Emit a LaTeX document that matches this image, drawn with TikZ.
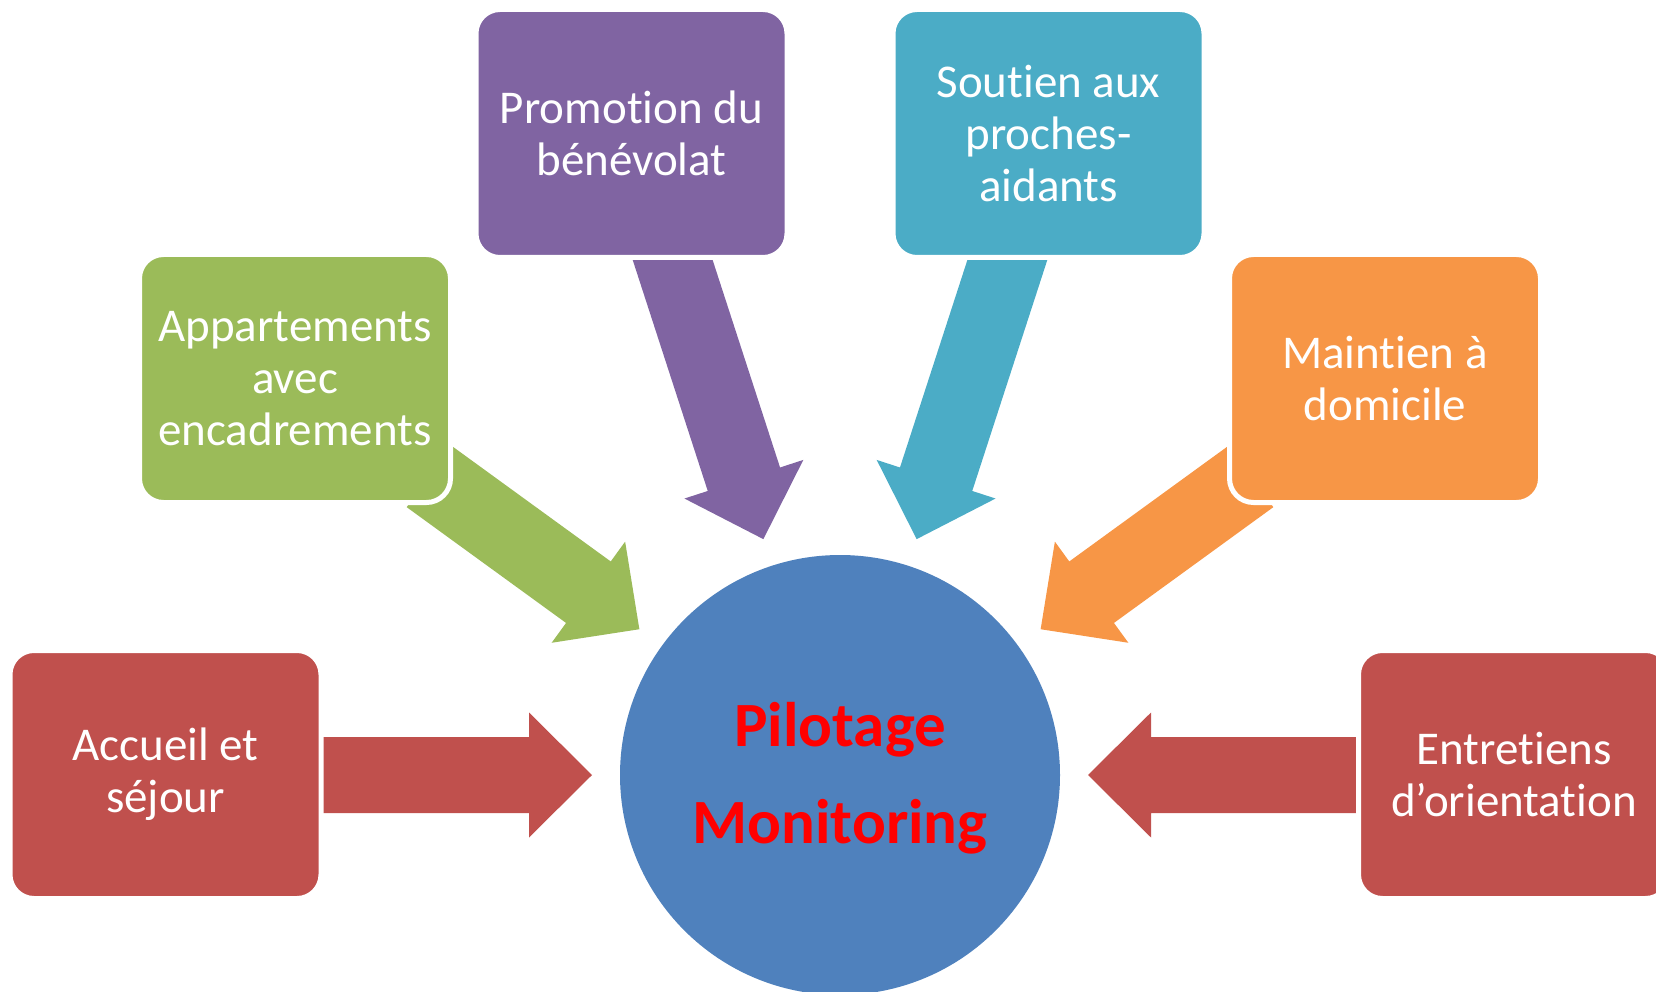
\documentclass[tikz,border=0pt]{standalone}
\usepackage{fontspec}
\setmainfont{Carlito}[Ligatures={NoCommon,NoContextual}]
\definecolor{redC}{HTML}{C0504D}
\definecolor{greenC}{HTML}{9BBB59}
\definecolor{purpleC}{HTML}{8064A2}
\definecolor{tealC}{HTML}{4BACC6}
\definecolor{orangeC}{HTML}{F79646}
\definecolor{blueC}{HTML}{4F81BD}
\definecolor{titleC}{HTML}{FF0000}
% block arrow pointing at a node: #1 colour, #2 node, #3 angle, #4 back radius
\newcommand{\inarrow}[4]{%
  \fill[#1, shift={(#2.center)}, rotate=#3]
    (#4,38) -- (311,38) -- (311,62.5) -- (248,0) -- (311,-62.5) -- (311,-38) -- (#4,-38) -- cycle;}
\begin{document}
\begin{tikzpicture}[x=1pt,y=1pt,
  box/.style={rectangle, rounded corners=24pt, minimum width=311pt, minimum height=248pt,
    inner sep=0pt, draw=white, line width=5pt, align=center, text=white,
    font=\fontsize{47}{52}\selectfont},
  hubstyle/.style={circle, fill=blueC, minimum size=440pt, inner sep=0pt},
  titletext/.style={text=titleC, inner sep=0pt, font=\fontsize{63}{75}\selectfont\bfseries}]
\useasboundingbox (0,0) rectangle (1656,-992);
\node[hubstyle] (hub) at (840,-775) {};
\node[titletext, anchor=base] (pil) at (840,-746) {Pilotage};
\node[titletext, anchor=base] (mon) at (840,-843) {Monitoring};
% arrows
\inarrow{redC}{hub}{180}{540}
\inarrow{greenC}{hub}{144}{508}
\inarrow{purpleC}{hub}{108}{580}
\inarrow{tealC}{hub}{72}{580}
\inarrow{orangeC}{hub}{36}{508}
\inarrow{redC}{hub}{0}{540}
% boxes
\node[box, fill=redC] (accueil) at (165.5,-774.5) {Accueil et\\séjour};
\node[box, fill=greenC] (appart) at (295,-378.5) {Appartements\\avec\\encadrements};
\node[box, fill=purpleC] (promo) at (631.5,-133.5) {Promotion du\\bénévolat};
\node[box, fill=tealC] (soutien) at (1048.5,-133.5) {Soutien aux\\proches-\\aidants};
\node[box, fill=orangeC] (maintien) at (1385,-378.5) {Maintien à\\domicile};
\node[box, fill=redC] (entretiens) at (1514,-774.5) {Entretiens\\d’orientation};
\end{tikzpicture}
\end{document}
